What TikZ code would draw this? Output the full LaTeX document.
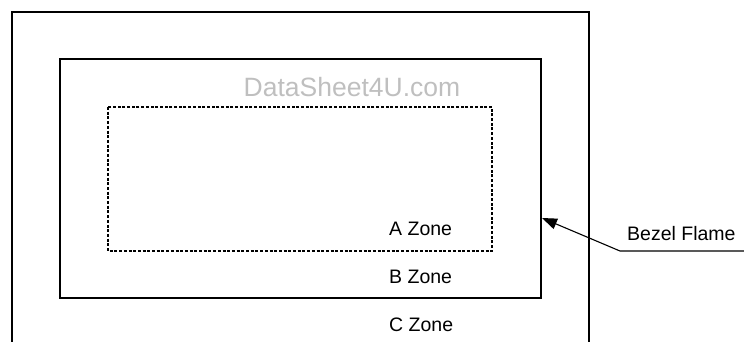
\documentclass[tikz,border=0pt]{standalone}
\usepackage{fontspec}
\setmainfont{Liberation Sans}
\usetikzlibrary{arrows.meta}
\begin{document}
\begin{tikzpicture}[x=1pt,y=-1pt,
  frame/.style={draw=black,line width=2.3pt},
  zone/.style={font=\fontsize{19.5}{22}\selectfont,inner sep=0pt,anchor=west},
  pointer/.style={draw=black,line width=1.1pt}]
\useasboundingbox (0,0) rectangle (744,341);
% outer (open at bottom)
\draw[frame] (12,345) -- (12,12) -- (589,12) -- (589,345);
% inner
\draw[frame] (60,59) rectangle (541,298);
% dotted A zone
\draw[line width=2.6pt,dash pattern=on 3pt off 1.7pt] (108,107) rectangle (492,251);
\node[text=black!25,font=\fontsize{26.5}{30}\selectfont,inner sep=0pt] (ds) at (352,87) {DataSheet4U.com};
\node[zone] (a) at (389,229) {A Zone};
\node[zone] (b) at (389,277) {B Zone};
\node[zone] (c) at (389,325) {C Zone};
\node[zone] (bz) at (627,234) {Bezel Flame};
\coordinate (tip) at (542,218);
\coordinate (bend) at (620,251);
\coordinate (end) at (744,251);
\draw[pointer,-{Triangle[length=15pt,width=11pt]}] (end) -- (bend) -- (tip);
\end{tikzpicture}
\end{document}
